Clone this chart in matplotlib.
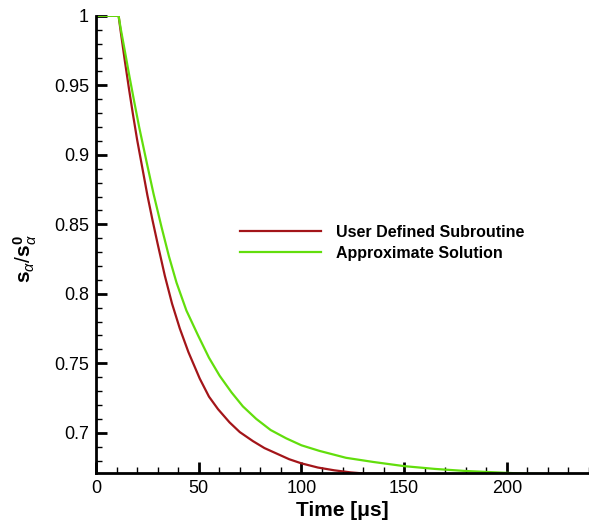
"""Decay of s_alpha: user subroutine vs approximate solution."""

import matplotlib
matplotlib.use("Agg")
import matplotlib.pyplot as plt
from matplotlib.ticker import MultipleLocator

plt.rcParams["font.family"] = ["Liberation Sans", "DejaVu Sans"]
plt.rcParams["mathtext.fontset"] = "custom"
plt.rcParams["mathtext.rm"] = "Liberation Sans"
plt.rcParams["mathtext.bf"] = "Liberation Sans:bold"
plt.rcParams["mathtext.it"] = "Liberation Sans:italic"

# values
t_user = [0, 11, 12, 14, 16, 18, 20, 22.5, 25, 27.5, 30, 33.5, 37, 40.8, 45, 50.5,
          55, 59.4, 65, 70, 76.4, 82, 88, 94, 100, 108, 116, 124, 132, 240]
s_user = [1.0, 1.0, 0.989, 0.968, 0.948, 0.929, 0.911, 0.891, 0.871, 0.853, 0.836, 0.813, 0.793, 0.775, 0.758, 0.739,
          0.726, 0.717, 0.7075, 0.7005, 0.694, 0.689, 0.685, 0.681, 0.678, 0.675, 0.673, 0.6715, 0.6705, 0.670]

t_approx = [0, 11, 12, 14, 16.2, 18.5, 21, 24.9, 28, 31.9, 35.5, 39.2, 44, 49.7, 55, 60.2,
            66, 71.5, 78, 85, 92.6, 100, 108.7, 121.7, 135, 150, 165, 180, 195, 210, 240]
s_approx = [1.0, 1.0, 0.991, 0.975, 0.957, 0.939, 0.920, 0.893, 0.872, 0.848, 0.827, 0.808, 0.788, 0.770, 0.754, 0.741,
            0.729, 0.719, 0.710, 0.702, 0.696, 0.691, 0.687, 0.682, 0.679, 0.676, 0.674, 0.6725, 0.6715, 0.6705, 0.670]

labels = ["User Defined Subroutine", "Approximate Solution"]
y_ticks = [0.7, 0.75, 0.8, 0.85, 0.9, 0.95, 1.0]
y_tick_labels = ["0.7", "0.75", "0.8", "0.85", "0.9", "0.95", "1"]
x_ticks = [0, 50, 100, 150, 200]

fig = plt.figure(figsize=(5.89, 5.28), dpi=100)
ax = fig.add_axes([0.163, 0.104, 0.837, 0.866])

ax.plot(t_user, s_user, color="#a31519", linewidth=1.6, label=labels[0])
ax.plot(t_approx, s_approx, color="#62de0c", linewidth=1.6, label=labels[1])

ax.set_xlim(0, 240)
ax.set_ylim(0.671, 1.0)

for side in ("top", "right"):
    ax.spines[side].set_visible(False)
for side in ("left", "bottom"):
    ax.spines[side].set_linewidth(2.0)
    ax.spines[side].set_zorder(5)

ax.set_xticks(x_ticks)
ax.set_yticks(y_ticks)
ax.set_yticklabels(y_tick_labels)
ax.xaxis.set_minor_locator(MultipleLocator(10))
ax.yaxis.set_minor_locator(MultipleLocator(0.01))
ax.tick_params(which="major", direction="in", length=8, width=2, labelsize=13, pad=5)
ax.tick_params(which="minor", direction="in", length=4, width=1)

ax.set_xlabel("Time [\u03bcs]", fontsize=15, fontweight="bold", labelpad=3)
ax.set_ylabel(r"$\mathbf{s}_{\alpha}/\mathbf{s}_{\alpha}^{\mathbf{0}}$", fontsize=15, labelpad=8)
ax.yaxis.set_label_coords(-0.115, 0.47)

ax.legend(loc="upper left", bbox_to_anchor=(232 / 589, 0.589), bbox_transform=fig.transFigure,
          frameon=False, borderpad=0, prop={"weight": "bold", "size": 11.5},
          handlelength=5.1, handletextpad=0.9, labelspacing=0.35)

fig.savefig("out.png", dpi=100)
